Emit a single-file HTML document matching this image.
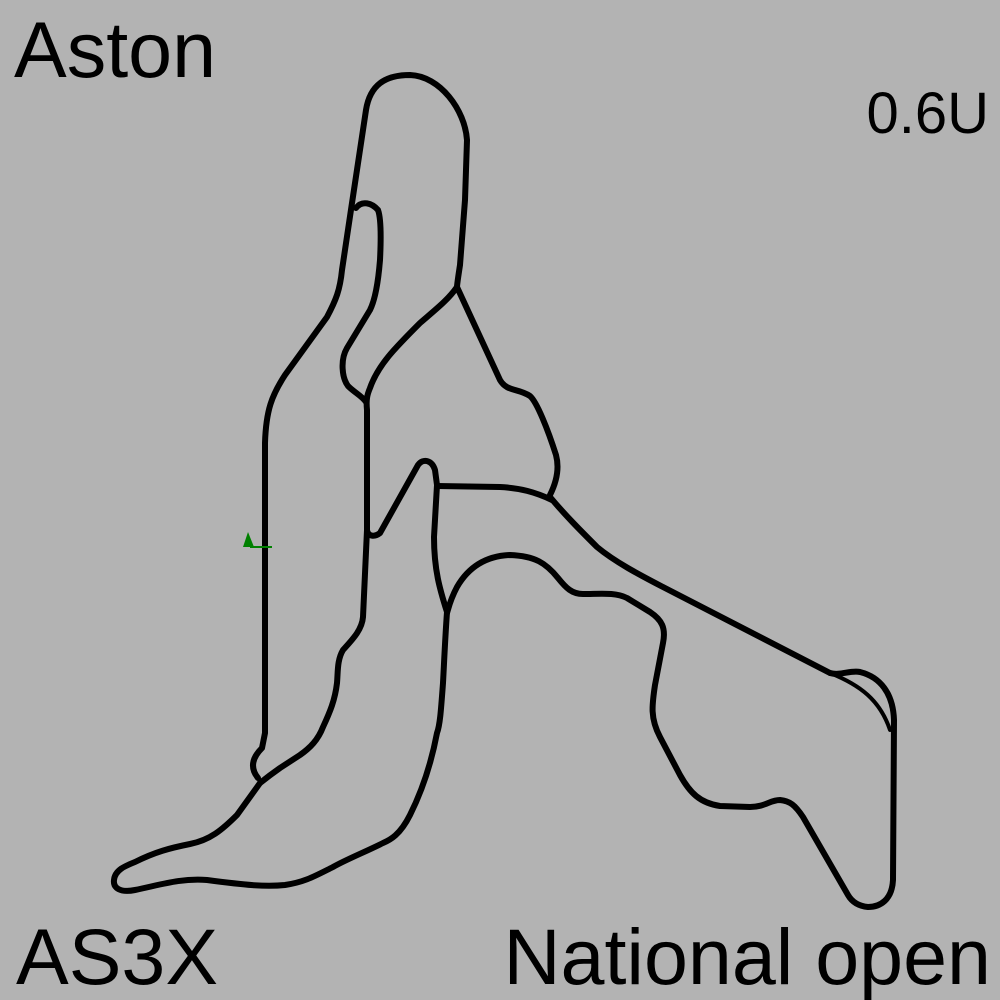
<!DOCTYPE html>
<html><head><style>
html,body{margin:0;padding:0;background:#b3b3b3;}
svg{display:block}
text{font-family:"Liberation Sans",sans-serif;fill:#000}
</style></head><body>
<svg width="1000" height="1000" viewBox="0 0 1000 1000">
<rect width="1000" height="1000" fill="#b3b3b3"/>
<g fill="none" stroke="#000" stroke-width="6" stroke-linejoin="round" stroke-linecap="round">
<path d="M258,778 C250,768 252,758 262,748 L265,733 L265,443 C266,410 272,395 285,375 L327,317 C336,300 340,290 342,270 L352,203 L366,110 C370,85 385,75 410,75 C440,76 465,110 467,140 L465,200 L460,265 C458,278 457,285 457,287"/>
<path d="M356,208 C362,200 372,203 378,210 C381,218 381,240 380,260 C378,285 375,300 370,310 L347,348 C340,360 342,378 348,386 C355,393 362,396 366,402"/>
<path d="M457,287 C448,300 435,310 420,323 C395,348 378,365 370,388 C367,395 366,400 367,410 L367,530 C368,537 375,537 380,533 L418,465 C423,458 432,460 435,470 L437,485"/>
<path d="M437,486 L500,487 C520,488 535,492 552,500"/>
<path d="M457,287 L500,380 C507,392 518,388 530,396 C537,402 548,430 556,455 C560,470 555,485 550,495"/>
<path d="M550,497 C565,515 580,530 597,547 C615,562 640,575 663,587 L830,673"/>
<path d="M830,673 C860,685 880,700 890,730" stroke-width="4"/>
<path d="M830,673 C840,676 850,670 860,672 C880,677 893,693 894,720 L893,880 C892,900 880,907 868,907 C858,906 852,902 848,895 L803,817 C795,805 790,801 780,800 C770,800 765,807 750,807 L720,806 C700,803 690,793 680,775 L660,737 C650,718 652,705 655,685 L663,643 C666,628 662,620 650,612 L627,598 C615,592 600,594 583,594 C572,594 566,588 558,578 C546,563 535,556 510,555 C485,556 468,568 457,587 C450,600 448,610 447,613"/>
<path d="M437,485 L434,537 C434,570 440,590 447,612 C445,640 444,665 443,683 C441,710 440,725 437,733 C430,770 420,795 410,815 C400,835 390,840 383,843 C365,852 345,860 333,867 C315,876 305,882 285,885 C265,887 245,885 207,880 C180,878 160,885 135,890 C120,893 113,888 114,880 C115,870 125,866 135,862 C155,852 170,848 190,844 C210,840 222,830 237,815 L260,783"/>
<path d="M367,530 L363,617 C362,630 352,640 343,650 C337,660 338,672 337,683 C335,700 330,712 323,727 C318,740 310,748 300,755 L280,768 C270,775 265,779 260,783"/>
</g>
<polygon points="248,532 243,547 254,547" fill="#008000"/>
<line x1="250" y1="547" x2="272" y2="547" stroke="#008000" stroke-width="2"/>
<text x="14" y="77" font-size="79">Aston</text>
<text x="989" y="133" font-size="58" text-anchor="end">0.6U</text>
<text x="16" y="984" font-size="79">AS3X</text>
<text x="991" y="984" font-size="79" text-anchor="end">National open</text>
</svg>
</body></html>
